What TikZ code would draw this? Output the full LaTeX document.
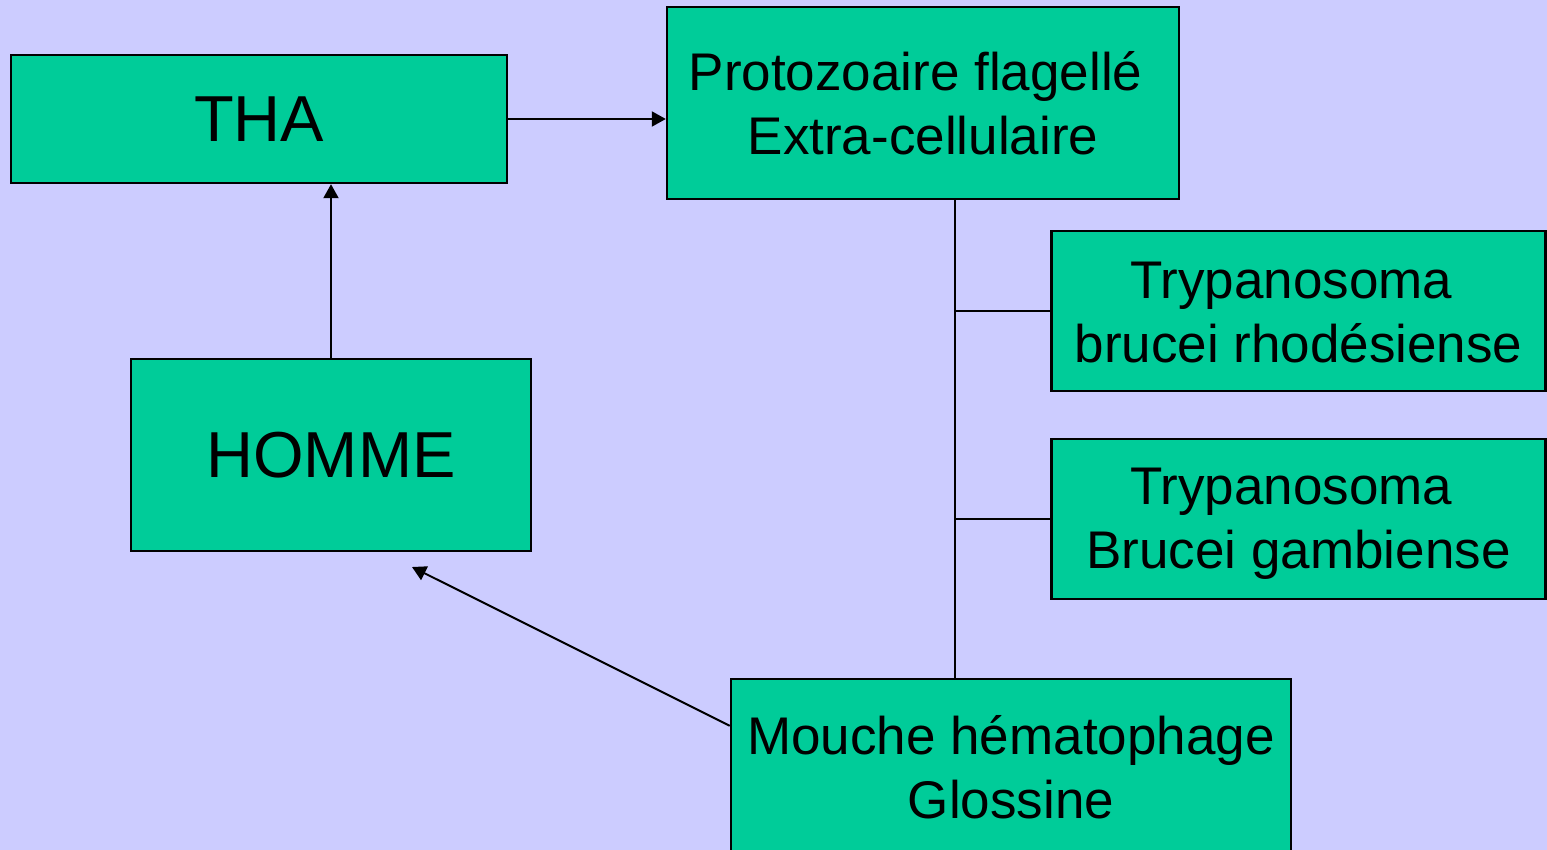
\documentclass[tikz,border=0pt]{standalone}
\usepackage{fontspec}
\setmainfont{Liberation Sans}
\usetikzlibrary{arrows.meta,calc}
\definecolor{bgc}{HTML}{CCCCFF}
\definecolor{boxc}{HTML}{00CC99}
\newcommand\topph{\vphantom{É}}
\newcommand\botph{\rule[-3.6pt]{0pt}{0pt}}
\begin{document}
\begin{tikzpicture}[x=0.5pt,y=-0.5pt,
  box/.style={draw=black,line width=1.2pt,fill=boxc,inner sep=0pt,align=center,anchor=center},
  big/.style={font=\fontsize{32.5}{39}\selectfont},
  med/.style={font=\fontsize{26.5}{32}\selectfont},
  conn/.style={line width=1pt},
  arr/.style={conn,-{Triangle[length=7pt,width=7.5pt]}}]
\fill[bgc] (0,0) rectangle (1547,850);
\useasboundingbox (0,0) rectangle (1547,850);
\node[box,big,minimum width=248pt,minimum height=64pt] (tha) at (259,119) {THA};
\node[box,med,minimum width=256pt,minimum height=96pt] (proto) at (923,103) {\topph Protozoaire flagellé\hspace*{0.278em}\\Extra-cellulaire\botph};
\node[box,med,minimum width=247pt,minimum height=80pt] (rhod) at (1298.5,311) {\topph Trypanosoma\hspace*{0.278em}\\brucei rhodésiense\botph};
\node[box,med,minimum width=247pt,minimum height=80pt] (gamb) at (1298.5,519) {\topph Trypanosoma\hspace*{0.278em}\\Brucei gambiense\botph};
\node[box,big,minimum width=200pt,minimum height=96pt] (homme) at (331,455) {HOMME};
\node[box,med,minimum width=280pt,minimum height=88pt] (mouche) at (1011,767) {\topph Mouche hématophage\\Glossine\botph};
\coordinate (bus) at ($(proto.south)+(32,0)$);
\coordinate (mtip) at (412,567);
\draw[arr] (tha.east) -- (tha.east -| proto.west);
\draw[arr] (homme.north) -- (homme.north |- tha.south);
\draw[conn] (bus) -- (bus |- mouche.north);
\draw[conn] (bus |- rhod.west) -- (rhod.west);
\draw[conn] (bus |- gamb.west) -- (gamb.west);
\draw[arr] ($(mouche.north west)+(0,48)$) -- (mtip);
\end{tikzpicture}
\end{document}
